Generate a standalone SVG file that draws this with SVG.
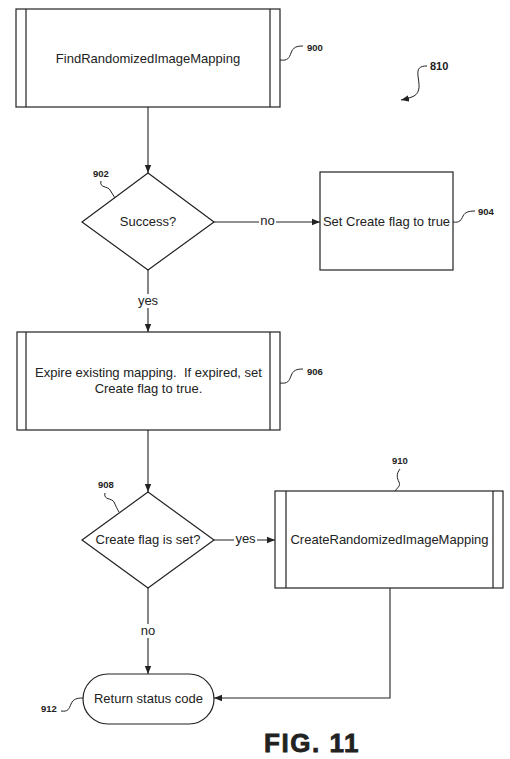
<svg xmlns="http://www.w3.org/2000/svg" width="510" height="759" viewBox="0 0 510 759">
<defs>
<marker id="ah" viewBox="0 0 10 10" refX="10" refY="5" markerWidth="8" markerHeight="8" markerUnits="userSpaceOnUse" orient="auto">
<path d="M0,1 L10,5 L0,9 z" fill="#222"/>
</marker>
<style>
.s{fill:#fff;stroke:#222;stroke-width:1.2}
.b{fill:none;stroke:#222;stroke-width:1.2}
.c{fill:none;stroke:#222;stroke-width:1.1}
.t{font-family:"Liberation Sans",Arial,sans-serif;font-size:13px;fill:#222;text-anchor:middle}
.r{font-family:"Liberation Sans",Arial,sans-serif;font-size:9.5px;font-weight:bold;fill:#222}
.q{fill:none;stroke:#222;stroke-width:1}
</style>
</defs>
<rect width="510" height="759" fill="#fff"/>
<g id="connectors">
<path class="c" d="M148,107 V173" marker-end="url(#ah)"/>
<path class="c" d="M214,222 H320" marker-end="url(#ah)"/>
<path class="c" d="M148,270 V332" marker-end="url(#ah)"/>
<path class="c" d="M148,430 V492" marker-end="url(#ah)"/>
<path class="c" d="M214,540 H275" marker-end="url(#ah)"/>
<path class="c" d="M148,588 V674" marker-end="url(#ah)"/>
<path class="c" d="M390,588 V698 H214" marker-end="url(#ah)"/>
<rect x="259" y="214" width="17" height="14" fill="#fff"/>
<text class="t" x="267.5" y="225">no</text>
<rect x="137" y="294" width="22" height="14" fill="#fff"/>
<text class="t" x="148" y="305">yes</text>
<rect x="234" y="532" width="23" height="14" fill="#fff"/>
<text class="t" x="245.5" y="543">yes</text>
<rect x="139" y="624" width="18" height="14" fill="#fff"/>
<text class="t" x="148" y="635">no</text>
</g>
<g id="n900">
<rect class="s" x="16" y="9" width="264" height="98"/>
<path class="b" d="M26,9 V107 M270,9 V107"/>
<text class="t" x="148" y="63">FindRandomizedImageMapping</text>
<path class="q" d="M280,60 C288,61 289,58 291,53 C293,47 297,46 303,46"/>
<text class="r" x="307" y="51">900</text>
</g>
<g id="n810">
<path class="q" d="M427,66 C420,66 417,68 418,76 C419,84 421,92 414,96 C410,98 406,99 401,100" marker-end="url(#ah)"/>
<text class="r" x="430" y="70" style="font-size:11px">810</text>
</g>
<g id="n902">
<polygon class="s" points="148,173 214,222 148,270 82,222"/>
<text class="t" x="148" y="226">Success?</text>
<path class="q" d="M101,181 C99,188 108,186 110,190 C112,193 113,195 115,198"/>
<text class="r" x="93" y="177">902</text>
</g>
<g id="n904">
<rect class="s" x="320" y="172" width="133" height="98"/>
<text class="t" x="386.5" y="226">Set Create flag to true</text>
<path class="q" d="M453,222 C460,223 461,220 463,216 C465,212 469,211 475,211"/>
<text class="r" x="478" y="215">904</text>
</g>
<g id="n906">
<rect class="s" x="17" y="332" width="263" height="98"/>
<path class="b" d="M26,332 V430 M270,332 V430"/>
<text class="t" x="148.5" y="377" xml:space="preserve">Expire existing mapping.  If expired, set</text>
<text class="t" x="148.5" y="393">Create flag to true.</text>
<path class="q" d="M280,383 C288,384 289,381 291,376 C293,370 297,369 303,369"/>
<text class="r" x="307" y="375">906</text>
</g>
<g id="n908">
<polygon class="s" points="148,492 214,540 148,588 82,540"/>
<text class="t" x="148" y="544">Create flag is set?</text>
<path class="q" d="M105,493 C103,500 112,498 114,502 C116,506 117,509 119,512"/>
<text class="r" x="98" y="488">908</text>
</g>
<g id="n910">
<rect class="s" x="275" y="491" width="228" height="97"/>
<path class="b" d="M286,491 V588 M493,491 V588"/>
<text class="t" x="389.5" y="544">CreateRandomizedImageMapping</text>
<path class="q" d="M400,469 C396,474 397,478 399,482 C401,486 397,488 395,491"/>
<text class="r" x="392" y="464">910</text>
</g>
<g id="n912">
<rect class="s" x="83" y="674" width="131" height="50" rx="25" ry="25"/>
<text class="t" x="148.5" y="703">Return status code</text>
<path class="q" d="M61,711 C68,712 69,709 71,704 C73,699 77,698 83,698"/>
<text class="r" x="41" y="712">912</text>
</g>
<text x="312" y="752" style="font-family:'Liberation Sans',Arial,sans-serif;font-size:26px;font-weight:bold;fill:#222;text-anchor:middle;letter-spacing:1.5px;stroke:#222;stroke-width:0.8">FIG. 11</text>
</svg>
